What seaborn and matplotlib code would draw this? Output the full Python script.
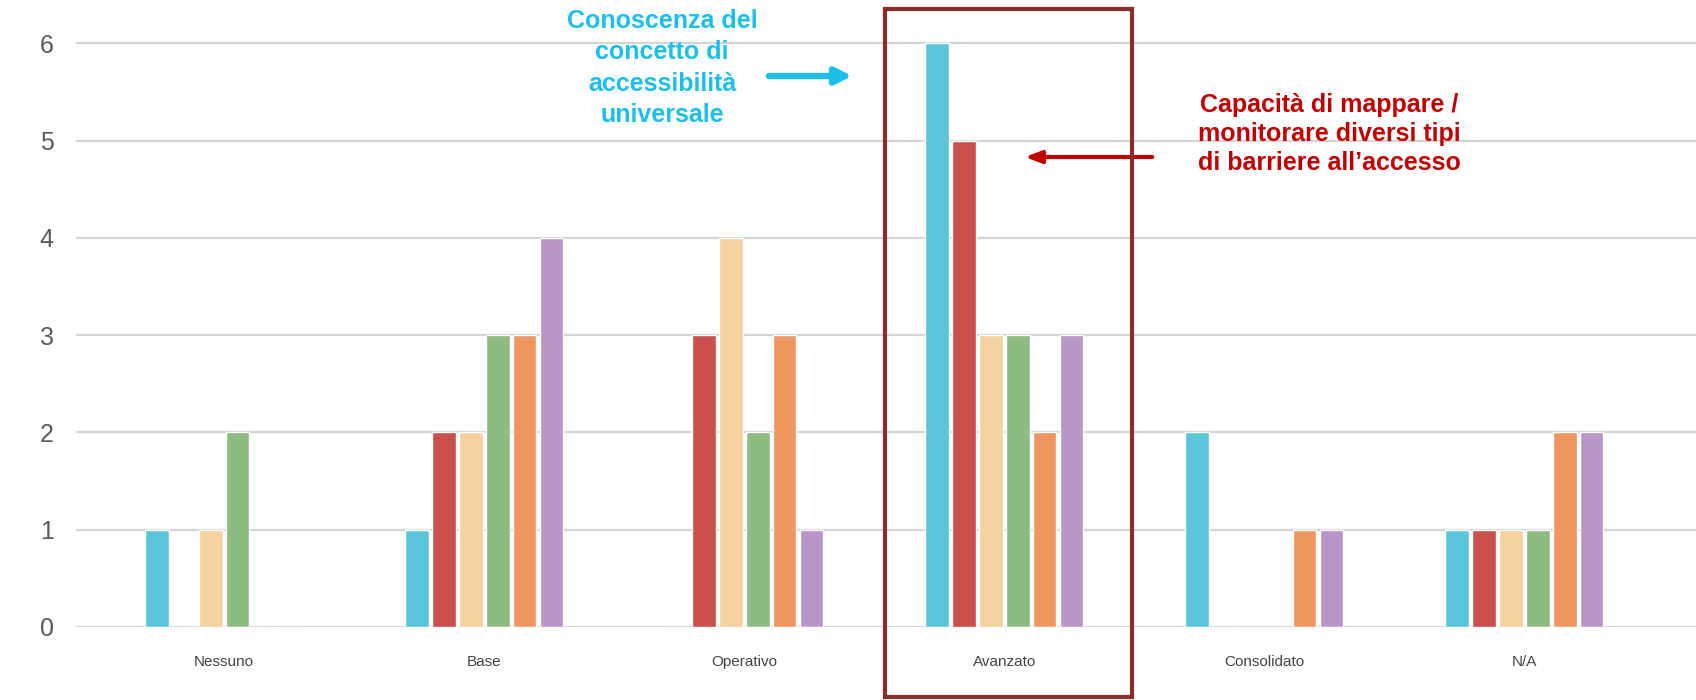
import matplotlib
matplotlib.use("Agg")
import matplotlib.pyplot as plt
import matplotlib.transforms as mtransforms
from matplotlib.patches import Rectangle
import seaborn as sns
import pandas as pd

categories = ["Nessuno", "Base", "Operativo", "Avanzato", "Consolidato", "N/A"]
series_names = [
    "Conoscenza del concetto di accessibilità universale",
    "Capacità di mappare / monitorare diversi tipi di barriere all’accesso",
    "Serie 3",
    "Serie 4",
    "Serie 5",
    "Serie 6",
]
s1 = [1, 1, 0, 6, 2, 1]
s2 = [0, 2, 3, 5, 0, 1]
s3 = [1, 2, 4, 3, 0, 1]
s4 = [2, 3, 2, 3, 0, 1]
s5 = [0, 3, 3, 2, 1, 2]
s6 = [0, 4, 1, 3, 1, 2]
colors = ["#5BC5DA", "#C9504B", "#F5D3A0", "#8DBB82", "#EE9660", "#B995C9"]
y_ticks = [0, 1, 2, 3, 4, 5, 6]

rows = []
for name, vals in zip(series_names, [s1, s2, s3, s4, s5, s6]):
    for c, v in zip(categories, vals):
        rows.append({"Livello": c, "Serie": name, "Valore": v})
df = pd.DataFrame(rows)

sns.set_theme(style="white")
plt.rcParams["font.family"] = ["Liberation Sans", "DejaVu Sans"]

fig = plt.figure(figsize=(16.96, 7.0), dpi=100)
ax = fig.add_axes([76 / 1696, 73 / 700, 1 - 76 / 1696, 603 / 700])

sns.barplot(data=df, x="Livello", y="Valore", hue="Serie", order=categories,
            hue_order=series_names, palette=colors, width=0.62, gap=0.12,
            legend=False, ax=ax, saturation=1)

ax.set_xlim(-0.57, 5.66)
ax.set_ylim(0, 6.2)
ax.set_yticks(y_ticks)
ax.yaxis.grid(True, color="#D5D5D5", linewidth=1.6)
ax.set_axisbelow(True)
for sp in ax.spines.values():
    sp.set_visible(False)
ax.set_xlabel("")
ax.set_ylabel("")
ax.tick_params(axis="y", length=0, pad=16, labelsize=18, labelcolor="#5A5A5A")
ax.tick_params(axis="x", length=0, pad=20, labelsize=11, labelcolor="#444444")

# highlight box around "Avanzato"
trans = mtransforms.blended_transform_factory(ax.transData, fig.transFigure)
ax.add_patch(Rectangle((2.54, 0.004), 0.95, 0.983, transform=trans, fill=False,
                       edgecolor="#8B2C2C", linewidth=3, clip_on=False, zorder=5))

# annotations
fig.text(662 / 1696, 1 - 68 / 700,
         "Conoscenza del\nconcetto di\naccessibilità\nuniversale",
         ha="center", va="center", fontsize=18, fontweight="bold",
         color="#1BBFE8", linespacing=1.38)
fig.text(1329 / 1696, 1 - 134 / 700,
         "Capacità di mappare /\nmonitorare diversi tipi\ndi barriere all’accesso",
         ha="center", va="center", fontsize=18, fontweight="bold",
         color="#C00000", linespacing=1.27)

ax.annotate("", xy=(855 / 1696, 1 - 76 / 700), xytext=(766 / 1696, 1 - 76 / 700),
            xycoords="figure fraction", textcoords="figure fraction",
            arrowprops=dict(arrowstyle="-|>,head_length=0.8,head_width=0.4",
                            color="#1BBFE8", lw=4.5))
ax.annotate("", xy=(1022 / 1696, 1 - 157 / 700), xytext=(1155 / 1696, 1 - 157 / 700),
            xycoords="figure fraction", textcoords="figure fraction",
            arrowprops=dict(arrowstyle="-|>,head_length=0.8,head_width=0.3",
                            color="#C00000", lw=3))

fig.savefig("out.png", dpi=100)
